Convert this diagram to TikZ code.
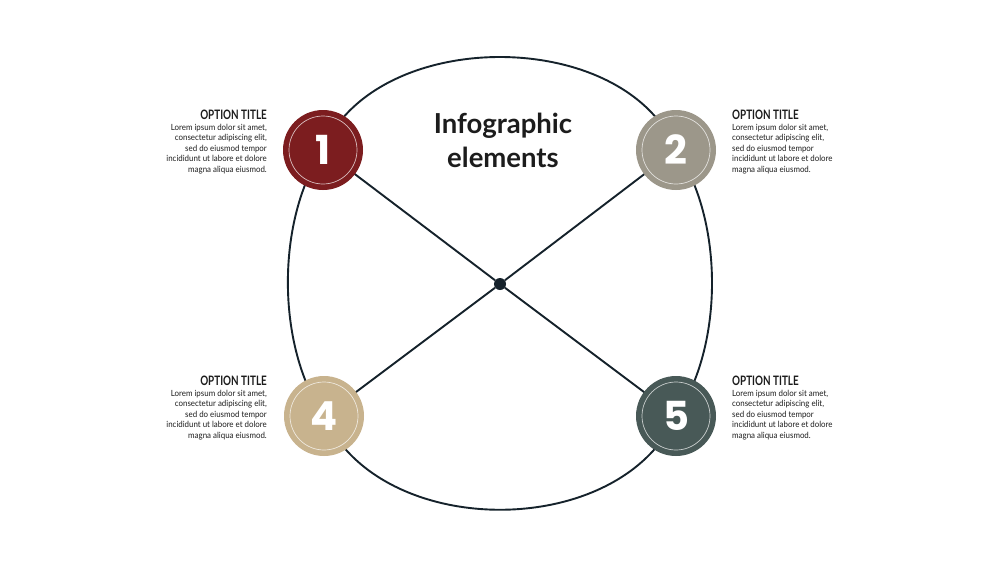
\documentclass[tikz,border=0pt]{standalone}
\usepackage{fontspec}
\setmainfont{Lato}
\newfontfamily\numfont{Poppins}
\newfontfamily\condfont{Lato}[FakeStretch=0.76]
\newfontfamily\bodyfont{Lato}[FakeStretch=0.93]
\usetikzlibrary{backgrounds}
\definecolor{lineC}{HTML}{15222B}
\definecolor{txtC}{HTML}{1C1C1C}
\definecolor{cA}{HTML}{7C1D1F}
\definecolor{cB}{HTML}{9C978A}
\definecolor{cD}{HTML}{C8B38E}
\definecolor{cE}{HTML}{485957}
\tikzset{
  badge/.style={circle, minimum size=80pt, inner sep=0pt, text=white,
    font=\numfont\bfseries\fontsize{40}{40}\selectfont},
  ring/.style={circle, draw=white, draw opacity=0.7, line width=0.7pt, minimum size=68pt, inner sep=0pt},
  conn/.style={draw=lineC, line width=1.9pt},
  optitle/.style={font=\condfont\bfseries\fontsize{13}{13}\selectfont, text=txtC, inner sep=0pt},
  optbody/.style={font=\bodyfont\fontsize{8.5}{10.4}\selectfont, text=txtC, inner sep=0pt},
  headline/.style={font=\bfseries\fontsize{27.5}{34}\selectfont, text=txtC, align=center, inner sep=0pt}
}
\begin{document}
\begin{tikzpicture}[x=1pt,y=-1pt]
\useasboundingbox (0,0) rectangle (1000,563);
% badges
\node[badge, fill=cA] (c1) at (323,150) {1};
\node[badge, fill=cB] (c2) at (676,150) {2};
\node[badge, fill=cD] (c4) at (324,416) {4};
\node[badge, fill=cE] (c5) at (676,416) {5};
\foreach \n in {c1,c2,c4,c5} \node[ring] (r\n) at (\n) {};
\node[circle, fill=lineC, minimum size=12pt, inner sep=0pt] (hub) at (500,284) {};
\begin{pgfonlayer}{background}
\fill[white] (0,0) rectangle (1000,563);
\draw[conn] (c1.center) .. controls (375,26) and (625,26) .. (c2.center);
\draw[conn] (c1.center) .. controls (276,220) and (276,346) .. (c4.center);
\draw[conn] (c2.center) .. controls (724,220) and (724,346) .. (c5.center);
\draw[conn] (c4.center) .. controls (380,541) and (620,541) .. (c5.center);
\draw[conn] (c1.center) -- (hub) -- (c5.center);
\draw[conn] (c2.center) -- (hub) -- (c4.center);
\end{pgfonlayer}
% headline
\node[headline, anchor=base] (head) at (503,167) {Infographic\\elements};
% texts
\node[optitle, anchor=base east] (t1) at (267,119) {OPTION TITLE};
\node[optbody, anchor=north east, align=right] (b1) at (267,124) {Lorem ipsum dolor sit amet,\\consectetur adipiscing elit,\\sed do eiusmod tempor\\incididunt ut labore et dolore\\magna aliqua eiusmod.};
\node[optitle, anchor=base west] (t2) at (732,119) {OPTION TITLE};
\node[optbody, anchor=north west, align=left] (b2) at (732,124) {Lorem ipsum dolor sit amet,\\consectetur adipiscing elit,\\sed do eiusmod tempor\\incididunt ut labore et dolore\\magna aliqua eiusmod.};
\node[optitle, anchor=base east] (t4) at (267,385) {OPTION TITLE};
\node[optbody, anchor=north east, align=right] (b4) at (267,390) {Lorem ipsum dolor sit amet,\\consectetur adipiscing elit,\\sed do eiusmod tempor\\incididunt ut labore et dolore\\magna aliqua eiusmod.};
\node[optitle, anchor=base west] (t5) at (732,385) {OPTION TITLE};
\node[optbody, anchor=north west, align=left] (b5) at (732,390) {Lorem ipsum dolor sit amet,\\consectetur adipiscing elit,\\sed do eiusmod tempor\\incididunt ut labore et dolore\\magna aliqua eiusmod.};
\end{tikzpicture}
\end{document}
